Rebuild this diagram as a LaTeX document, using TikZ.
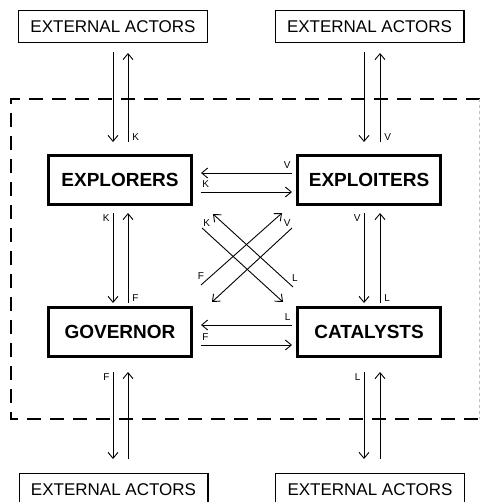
\documentclass[tikz,border=0pt]{standalone}
\usepackage{fontspec}
\setmainfont{Liberation Sans}
\usetikzlibrary{arrows.meta,calc}

\tikzset{
  actor/.style={draw, line width=1.4pt, minimum width=188.6pt, minimum height=31.6pt, inner sep=0pt, font=\fontsize{17}{17}\selectfont},
  unit/.style={draw, line width=2.6pt, minimum width=143.4pt, minimum height=49.4pt, inner sep=0pt, font=\fontsize{19}{19}\selectfont\bfseries},
  flow/.style={->, line width=0.9pt},
  tag/.style={font=\fontsize{10}{10}\selectfont, inner sep=1pt},
  boundary/.style={line width=2.6pt, dash pattern=on 14pt off 9pt}
}

\begin{document}
\begin{tikzpicture}[x=1pt, y=-1pt, >={Straight Barb[length=6pt,width=10pt]}]
    \clip (0,0) rectangle (480,502);

    % Outside world
    \node[actor] (extTL) at (113,26.5) {EXTERNAL ACTORS};
    \node[actor] (extTR) at (369.5,26.5) {EXTERNAL ACTORS};
    \node[actor] (extBL) at (113.5,489.5) {EXTERNAL ACTORS};
    \node[actor] (extBR) at (370,489.5) {EXTERNAL ACTORS};

    % Organisation boundary
    \draw[boundary] (480,99) -- (11,99) -- (11,419) -- (480,419);
    \draw[gray!50, line width=0.6pt, dashed] (479,99) -- (479,419);

    % Units
    \node[unit] (explorers) at (120,180) {EXPLORERS};
    \node[unit] (exploiters) at (369,180) {EXPLOITERS};
    \node[unit] (governor) at (120,332) {GOVERNOR};
    \node[unit] (catalysts) at (369,332) {CATALYSTS};

    % Exchanges with the outside
    \draw[flow] ($(extTL.south)+(0,9)$) -- ($(explorers.north)+(-7,-12)$);
    \draw[flow] ($(explorers.north)+(8,-12)$) node[tag, anchor=south west, xshift=3pt] {K} -- ($(extTL.south)+(15,10)$);
    \draw[flow] ($(extTR.south)+(-5.5,9)$) -- ($(exploiters.north)+(-5,-12)$);
    \draw[flow] ($(exploiters.north)+(11,-12)$) node[tag, anchor=south west, xshift=3pt] {V} -- ($(extTR.south)+(10.5,10)$);
    \draw[flow] ($(governor.south)+(-7,14)$) node[tag, anchor=north east, xshift=-2pt] {F} -- ($(extBL.north)+(-0.5,-14)$);
    \draw[flow] ($(extBL.north)+(14.5,-14)$) -- ($(governor.south)+(8,14)$);
    \draw[flow] ($(catalysts.south)+(-5,14)$) node[tag, anchor=north east, xshift=-2pt] {L} -- ($(extBR.north)+(-6,-14)$);
    \draw[flow] ($(extBR.north)+(10,-14)$) -- ($(catalysts.south)+(11,14)$);

    % Vertical exchanges
    \draw[flow] ($(explorers.south)+(-7,7)$) node[tag, anchor=north east, xshift=-2pt] {K} -- ($(governor.north)+(-7,-3)$);
    \draw[flow] ($(governor.north)+(8,-3)$) node[tag, anchor=south west, xshift=3pt] {F} -- ($(explorers.south)+(8,7)$);
    \draw[flow] ($(exploiters.south)+(-5,7)$) node[tag, anchor=north east, xshift=-2pt] {V} -- ($(catalysts.north)+(-5,-3)$);
    \draw[flow] ($(catalysts.north)+(11,-3)$) node[tag, anchor=south west, xshift=3pt] {L} -- ($(exploiters.south)+(11,7)$);

    % Horizontal exchanges
    \draw[flow] ($(exploiters.west)+(-4,-7)$) node[tag, anchor=south east, yshift=3pt] {V} -- ($(explorers.east)+(8,-7)$);
    \draw[flow] ($(explorers.east)+(8,12)$) node[tag, anchor=south west, yshift=3pt] {K} -- ($(exploiters.west)+(-4,12)$);
    \draw[flow] ($(catalysts.west)+(-4,-7)$) node[tag, anchor=south east, yshift=3pt] {L} -- ($(governor.east)+(8,-7)$);
    \draw[flow] ($(governor.east)+(8,13)$) node[tag, anchor=south west, yshift=3pt] {F} -- ($(catalysts.west)+(-4,13)$);

    % Diagonal exchanges
    \draw[flow] ($(explorers.south east)+(9,22)$) node[tag, anchor=south west] {K} -- ($(catalysts.north west)+(-13,-4)$);
    \draw[flow] ($(catalysts.north west)+(-3,-19)$) node[tag, anchor=south, xshift=2pt, yshift=4pt] {L} -- ($(explorers.south east)+(20,8)$);
    \draw[flow] ($(governor.north east)+(8,-21)$) node[tag, anchor=south, yshift=4pt] {F} -- ($(exploiters.south west)+(-14,7)$);
    \draw[flow] ($(exploiters.south west)+(-4,22)$) node[tag, anchor=south east] {V} -- ($(governor.north east)+(19,-4)$);
\end{tikzpicture}
\end{document}
